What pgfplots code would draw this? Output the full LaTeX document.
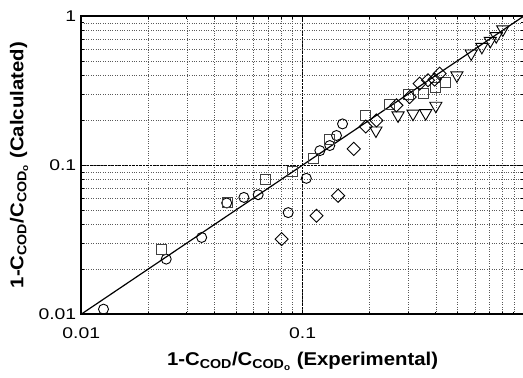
\documentclass[border=0pt]{standalone}
\usepackage{pgfplots}
\pgfplotsset{compat=1.18}
\usepackage{pgfplotstable}
\usepackage{fontspec}
\setmainfont{Liberation Sans}
\newfontfamily\tickfont[FakeStretch=1.25]{Liberation Sans}
\newfontfamily\labelfont[FakeStretch=1.1]{Liberation Sans}

% calculated vs experimental COD removal, four data sets
\pgfplotstableread{
x y
0.0126 0.0108
0.0242 0.0234
0.0350 0.0327
0.0454 0.0557
0.0543 0.0607
0.0630 0.0633
0.0861 0.0480
0.1040 0.0815
0.1197 0.1250
0.1327 0.1353
0.1423 0.1580
0.1515 0.1890
}\circdata
\pgfplotstableread{
x y
0.0230 0.0270
0.0458 0.0563
0.0680 0.0807
0.0898 0.0908
0.1117 0.1110
0.1318 0.1486
0.1924 0.2155
0.2459 0.2556
0.2995 0.2970
0.3524 0.3045
0.3980 0.3340
0.4430 0.3560
}\sqdata
\pgfplotstableread{
x y
0.0804 0.0319
0.1156 0.0457
0.1447 0.0623
0.1703 0.1285
0.1930 0.1817
0.2157 0.1994
0.2655 0.2517
0.3048 0.2860
0.3380 0.3520
0.3685 0.3710
0.3950 0.3750
0.4160 0.4110
}\diadata
\pgfplotstableread{
x y
0.2145 0.1707
0.2700 0.2155
0.3155 0.2213
0.3600 0.2230
0.4000 0.2500
0.4980 0.4000
0.5780 0.5610
0.6457 0.6215
0.7050 0.6820
0.7500 0.7330
0.8030 0.8130
}\tridata

\begin{document}
\begin{tikzpicture}
\begin{loglogaxis}[
  scale only axis,
  width=441bp, height=297bp,
  xmin=0.01, xmax=1, ymin=0.01, ymax=1,
  xtick={0.01,0.1,1}, xticklabels={0.01,0.1,{}},
  ytick={0.01,0.1,1}, yticklabels={0.01,0.1,1},
  tick label style={font=\tickfont\fontsize{15.5}{17}\selectfont},
  xticklabel style={yshift=-10bp},
  yticklabel style={xshift=-1.5bp},
  grid=both,
  major grid style={black, densely dotted, line width=0.6pt},
  minor grid style={black!65, dotted, line width=0.5pt},
  axis line style={line width=1.6pt},
  tick style={black, line width=0.8pt},
  major tick length=4bp, minor tick length=2.5bp,
  tick align=inside,
  label style={font=\labelfont\bfseries\fontsize{18.5}{20}\selectfont},
  xlabel={1-C\textsubscript{COD}/C\textsubscript{COD\textsubscript{o}} (Experimental)},
  ylabel={1-C\textsubscript{COD}/C\textsubscript{COD\textsubscript{o}} (Calculated)},
  xlabel style={at={(axis description cs:0.5,0)}, anchor=base, yshift=-51bp},
  ylabel style={at={(axis description cs:-0.1406,0.5)}, anchor=center},
  clip=false,
]
\addplot[black, line width=1.2pt, no marks] coordinates {(0.01,0.01) (1,1)};
\addplot[only marks, mark=o, mark size=5bp, mark options={line width=0.9pt, black}] table {\circdata};
\addplot[only marks, mark=square, mark size=5bp, mark options={line width=0.9pt, black!75}] table {\sqdata};
\addplot[only marks, mark=square, mark size=4.6bp, mark options={line width=0.9pt, black, rotate=45}] table {\diadata};
\addplot[only marks, mark=triangle, mark size=7bp, mark options={line width=0.9pt, black, rotate=180}] table {\tridata};
\end{loglogaxis}
% page frame: room for the labels on the left and below, right edge at the plot frame
\pgfresetboundingbox
\path[use as bounding box] ([xshift=-81bp,yshift=-63bp]current axis.south west)
  rectangle ([xshift=-0.9bp,yshift=16bp]current axis.north east);
\end{tikzpicture}
\end{document}
